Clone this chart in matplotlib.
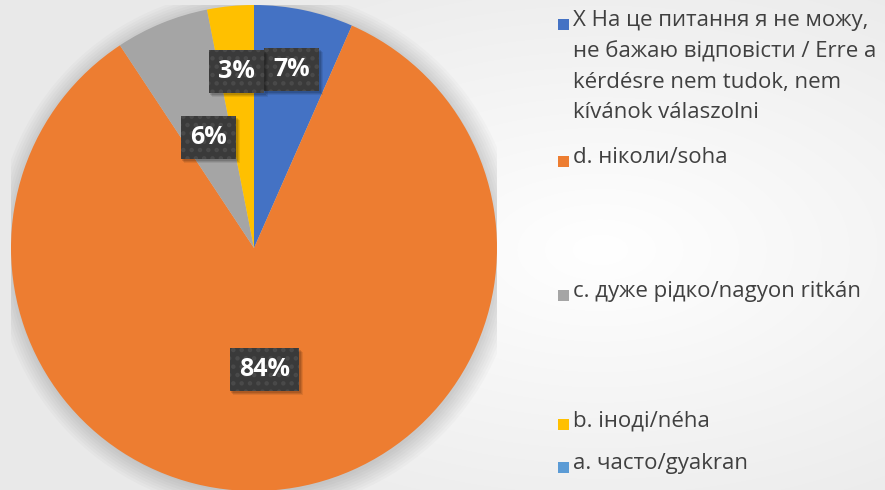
import numpy as np
import matplotlib.pyplot as plt
from matplotlib.patches import Rectangle, Circle
from matplotlib.transforms import IdentityTransform

plt.rcParams['font.family'] = ['Open Sans', 'DejaVu Sans']

# data (clockwise from 12 o'clock)
categories = ["X На це питання я не можу,\nне бажаю відповісти / Erre a\nkérdésre nem tudok, nem\nkívánok válaszolni",
              "d. ніколи/soha",
              "c. дуже рідко/nagyon ritkán",
              "b. іноді/néha",
              "a. часто/gyakran"]
shares = [6.6, 84.1, 6.2, 3.1, 0.0]
colors = ["#4472C4", "#ED7D31", "#A5A5A5", "#FFC000", "#5B9BD5"]
label_radius = [0.75, 0.5, 0.49, 0.73, 0.5]
legend_y = [25, 162, 296, 425, 468]  # px from top, first line of each entry

W, H = 885, 490
fig = plt.figure(figsize=(W / 100, H / 100), dpi=100)

# background radial gradient
bg = fig.add_axes([0, 0, 1, 1])
yy, xx = np.mgrid[0:H, 0:W]
d = np.sqrt(((xx - 600) / 600.0) ** 2 + ((yy - 250) / 330.0) ** 2)
d = np.clip(d, 0, 1)
shade = 1.0 - 0.085 * d
bg.imshow(np.dstack([shade] * 3), extent=[0, W, H, 0], aspect='auto')
bg.set_xlim(0, W)
bg.set_ylim(H, 0)
bg.axis('off')

# pie
cx, cy, r = 254, 248, 243
ax = fig.add_axes([(cx - r) / W, (H - cy - r) / H, 2 * r / W, 2 * r / H])

# soft shadow
for k in range(8):
    ax.add_patch(Circle((0.01, -0.01), 1.0 + 0.011 * k, color='black',
                        alpha=0.02, lw=0, zorder=0))

wedges, _ = ax.pie(shares, colors=colors, startangle=90, counterclock=False,
                   radius=1.0, wedgeprops=dict(linewidth=0))
for w in wedges:
    w.set_zorder(1)
ax.set_xlim(-1, 1)
ax.set_ylim(-1, 1)
ax.set_aspect('equal')
ax.axis('off')

plt.rcParams['hatch.linewidth'] = 2.0
labels = []
z = 5
for w, s, lr in zip(wedges, shares, label_radius):
    if s <= 0:
        continue
    ang = np.deg2rad((w.theta1 + w.theta2) / 2)
    x, y = lr * np.cos(ang), lr * np.sin(ang)
    t = ax.text(x, y, f"{s:.0f}%", ha='center', va='center', color='white',
                fontsize=18, fontweight='bold', zorder=z,
                bbox=dict(boxstyle='square,pad=0.36', facecolor='#3a3a3a',
                          edgecolor='#4a4a4a', linewidth=0, hatch='..'))
    labels.append(t)
    z += 2

# drop shadows under the label boxes
fig.canvas.draw()
for t in labels:
    bb = t.get_bbox_patch().get_window_extent()
    for k, a in enumerate([0.12, 0.1, 0.08]):
        ax.add_patch(Rectangle((bb.x0 + 1 + k, bb.y0 - 2 - k), bb.width + 1, bb.height,
                               transform=IdentityTransform(), facecolor='black',
                               alpha=a, edgecolor='none', zorder=t.get_zorder() - 1,
                               clip_on=False))

# legend
for lab, col, ly in zip(categories, colors, legend_y):
    bg.add_patch(Rectangle((558, ly - 6), 11, 11, facecolor=col, edgecolor='none'))
    bg.text(573, ly - 15, lab, ha='left', va='top', fontsize=16,
            color='#404040', linespacing=1.6)

fig.savefig('out.png', dpi=100)
